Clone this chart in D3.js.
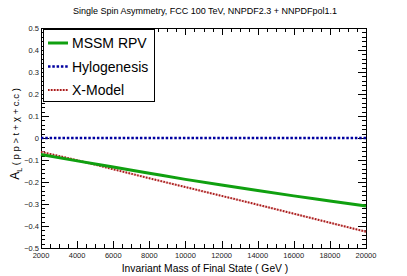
<!DOCTYPE html>
<html>
<head>
<meta charset="utf-8">
<script src="https://cdn.jsdelivr.net/npm/d3@7"></script>
<style>
  body { margin: 0; background: #fff; }
  svg { display: block; font-family: "Liberation Sans", Arial, sans-serif; }
</style>
</head>
<body>
<svg id="chart" width="407" height="276"></svg>
<script>
// values
var masses = [2000, 4000, 6000, 8000, 10000, 12000, 14000, 16000, 18000, 20000];
var mssmRpv = [-0.075, -0.104, -0.132, -0.160, -0.188, -0.214, -0.239, -0.263, -0.286, -0.309];
var hylogenesis = [0, 0, 0, 0, 0, 0, 0, 0, 0, 0];
var xModel = [-0.063, -0.101, -0.142, -0.183, -0.223, -0.263, -0.303, -0.344, -0.385, -0.426];
var seriesNames = ["MSSM RPV", "Hylogenesis", "X-Model"];
var xTicks = [2000, 4000, 6000, 8000, 10000, 12000, 14000, 16000, 18000, 20000];
var yTicks = [-0.5, -0.4, -0.3, -0.2, -0.1, 0, 0.1, 0.2, 0.3, 0.4, 0.5];

var svg = d3.select("#chart");
// frame edges ("top" is taken by window.top, so use other names)
var padL = 41, padR = 366, padT = 28, padB = 248;

var x = d3.scaleLinear().domain([2000, 20000]).range([padL, padR]);
var y = d3.scaleLinear().domain([-0.5, 0.5]).range([padB, padT]);

svg.append("text")
    .attr("x", 205).attr("y", 14)
    .attr("text-anchor", "middle")
    .attr("font-size", 9)
    .text("Single Spin Asymmetry, FCC 100 TeV, NNPDF2.3 + NNPDFpol1.1");

// ticks, ROOT style: inside, on all four sides
var xMinor = d3.range(2000, 20001, 500);
var yMinor = d3.range(-50, 51, 2).map(d => d / 100);
var ticks = svg.append("g").attr("stroke", "#000").attr("stroke-width", 1);

xMinor.forEach(function(v) {
    var len = (v % 2000 == 0) ? 7 : 4;
    var px = Math.round(x(v)) + 0.5;
    ticks.append("line").attr("x1", px).attr("x2", px).attr("y1", padB).attr("y2", padB - len);
    ticks.append("line").attr("x1", px).attr("x2", px).attr("y1", padT).attr("y2", padT + len);
});
yMinor.forEach(function(v) {
    var len = (Math.round(v * 100) % 10 == 0) ? 8 : 4;
    var py = Math.round(y(v)) + 0.5;
    ticks.append("line").attr("x1", padL).attr("x2", padL + len).attr("y1", py).attr("y2", py);
    ticks.append("line").attr("x1", padR).attr("x2", padR - len).attr("y1", py).attr("y2", py);
});

svg.append("rect")
    .attr("x", padL + 0.5).attr("y", padT + 0.5)
    .attr("width", padR - padL).attr("height", padB - padT)
    .attr("fill", "none").attr("stroke", "#000");

svg.append("g").selectAll("text")
    .data(xTicks).enter().append("text")
    .attr("x", d => x(d))
    .attr("y", padB + 10)
    .attr("text-anchor", "middle")
    .attr("font-size", 7.5)
    .attr("fill", "#222")
    .text(d => d);

svg.append("g").selectAll("text")
    .data(yTicks).enter().append("text")
    .attr("x", padL - 2)
    .attr("y", d => y(d) + 2.5)
    .attr("text-anchor", "end")
    .attr("font-size", 7.5)
    .attr("fill", "#222")
    .text(d => d == 0 ? "0" : d3.format(".1f")(d));

svg.append("text")
    .attr("x", 205).attr("y", 272)
    .attr("text-anchor", "middle")
    .attr("font-size", 10.3)
    .text("Invariant Mass of Final State ( GeV )");

var yTitle = svg.append("text")
    .attr("transform", "translate(19,134) rotate(-90)")
    .attr("text-anchor", "middle")
    .attr("font-size", 9.5);
yTitle.append("tspan").attr("font-size", 12).text("A");
yTitle.append("tspan").attr("font-size", 7).attr("dy", 3).text("L");
yTitle.append("tspan").attr("dy", -3).text(" ( p p > t + \u03c7 + c.c )");

var line = d3.line()
    .x((d, i) => x(masses[i]))
    .y(d => y(d))
    .curve(d3.curveMonotoneX);

svg.append("path").datum(xModel)
    .attr("d", line).attr("fill", "none")
    .attr("stroke", "#eec4c4").attr("stroke-width", 2);
svg.append("path").datum(xModel)
    .attr("d", line).attr("fill", "none")
    .attr("stroke", "#a81c1c").attr("stroke-width", 2)
    .attr("stroke-dasharray", "1.5,1.5");

svg.append("path").datum(mssmRpv)
    .attr("d", line).attr("fill", "none")
    .attr("stroke", "#10a010").attr("stroke-width", 3);

svg.append("path").datum(hylogenesis)
    .attr("d", line).attr("fill", "none")
    .attr("stroke", "#0000a0").attr("stroke-width", 2.5)
    .attr("stroke-dasharray", "2.5,1.8");

// legend
var lg = svg.append("g");
lg.append("rect")
    .attr("x", 43.5).attr("y", 29.5).attr("width", 111).attr("height", 72)
    .attr("fill", "#fff").attr("stroke", "#000");

var styles = [
    {color: "#10a010", width: 3, dash: null},
    {color: "#0000a0", width: 2.5, dash: "2.5,1.8"},
    {color: "#a81c1c", width: 2, dash: "1.5,1.5"}
];
seriesNames.forEach(function(name, i) {
    var ly = 43 + i * 23.5;
    if (i == 2) {
        lg.append("line").attr("x1", 48).attr("x2", 68).attr("y1", ly).attr("y2", ly)
            .attr("stroke", "#eec4c4").attr("stroke-width", 2);
    }
    lg.append("line").attr("x1", 48).attr("x2", 68).attr("y1", ly).attr("y2", ly)
        .attr("stroke", styles[i].color).attr("stroke-width", styles[i].width)
        .attr("stroke-dasharray", styles[i].dash);
    lg.append("text").attr("x", 72).attr("y", ly + 5)
        .attr("font-size", 14).text(name);
});
</script>
</body>
</html>
